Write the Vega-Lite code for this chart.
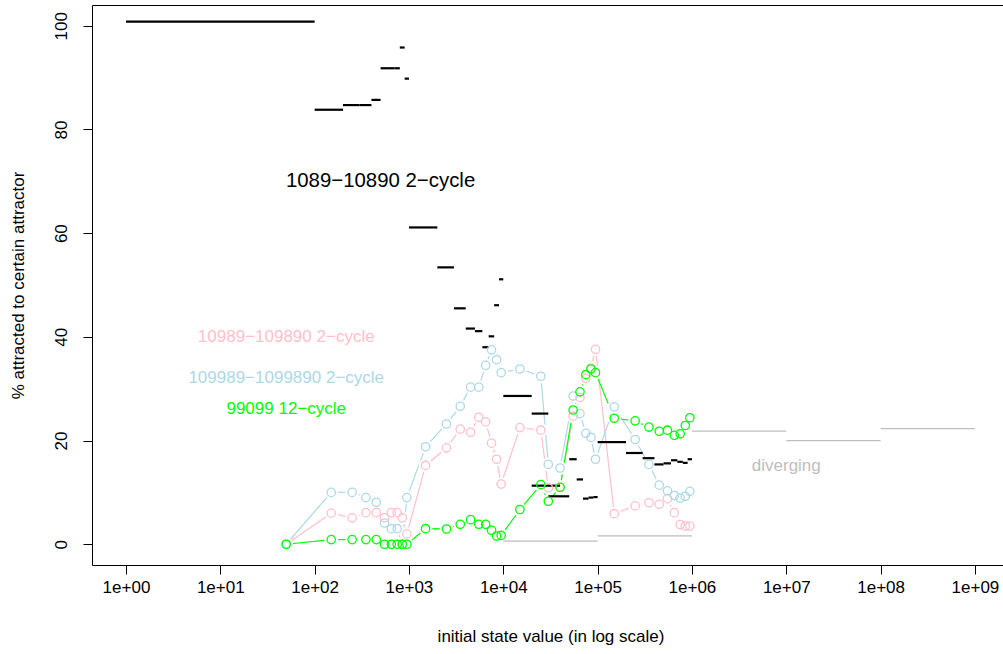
{
  "$schema": "https://vega.github.io/schema/vega-lite/v6.json",
  "width": 911,
  "height": 560,
  "autosize": {"type": "none"},
  "padding": {"left": 92, "top": 5, "right": 0, "bottom": 89},
  "background": "white",
  "config": {"view": {"stroke": null}, "font": "Liberation Sans"},
  "datasets": {
    "pts": [
      {"series": "10989", "x": 50, "y": 0}, {"series": "10989", "x": 150, "y": 6.0}, {"series": "10989", "x": 250, "y": 5.1}, {"series": "10989", "x": 350, "y": 6.1}, {"series": "10989", "x": 450, "y": 6.1}, {"series": "10989", "x": 550, "y": 5.1}, {"series": "10989", "x": 650, "y": 6.1}, {"series": "10989", "x": 750, "y": 6.1}, {"series": "10989", "x": 850, "y": 5.1}, {"series": "10989", "x": 950, "y": 2.0},
      {"series": "10989", "x": 1500, "y": 15.2}, {"series": "10989", "x": 2500, "y": 18.6}, {"series": "10989", "x": 3500, "y": 22.2}, {"series": "10989", "x": 4500, "y": 21.6}, {"series": "10989", "x": 5500, "y": 24.5}, {"series": "10989", "x": 6500, "y": 23.6}, {"series": "10989", "x": 7500, "y": 19.5}, {"series": "10989", "x": 8500, "y": 16.4}, {"series": "10989", "x": 9500, "y": 11.6},
      {"series": "10989", "x": 15000, "y": 22.5}, {"series": "10989", "x": 25000, "y": 22.0}, {"series": "10989", "x": 30000, "y": 10.9}, {"series": "10989", "x": 40000, "y": 11.0}, {"series": "10989", "x": 55000, "y": 24.7}, {"series": "10989", "x": 65000, "y": 28.3}, {"series": "10989", "x": 75000, "y": 32.0}, {"series": "10989", "x": 85000, "y": 34.0}, {"series": "10989", "x": 95000, "y": 37.6},
      {"series": "10989", "x": 150000, "y": 5.9}, {"series": "10989", "x": 250000, "y": 7.4}, {"series": "10989", "x": 350000, "y": 8.0}, {"series": "10989", "x": 450000, "y": 7.7}, {"series": "10989", "x": 550000, "y": 8.8}, {"series": "10989", "x": 650000, "y": 6.1}, {"series": "10989", "x": 750000, "y": 3.8}, {"series": "10989", "x": 850000, "y": 3.5}, {"series": "10989", "x": 950000, "y": 3.5},
      {"series": "109989", "x": 50, "y": 0}, {"series": "109989", "x": 150, "y": 10.0}, {"series": "109989", "x": 250, "y": 10.0}, {"series": "109989", "x": 350, "y": 9.0}, {"series": "109989", "x": 450, "y": 8.1}, {"series": "109989", "x": 550, "y": 4.1}, {"series": "109989", "x": 650, "y": 3.0}, {"series": "109989", "x": 750, "y": 3.0}, {"series": "109989", "x": 850, "y": 0}, {"series": "109989", "x": 950, "y": 9.0},
      {"series": "109989", "x": 1500, "y": 18.8}, {"series": "109989", "x": 2500, "y": 23.2}, {"series": "109989", "x": 3500, "y": 26.6}, {"series": "109989", "x": 4500, "y": 30.3}, {"series": "109989", "x": 5500, "y": 30.3}, {"series": "109989", "x": 6500, "y": 34.5}, {"series": "109989", "x": 7500, "y": 37.5}, {"series": "109989", "x": 8500, "y": 35.6}, {"series": "109989", "x": 9500, "y": 33.1},
      {"series": "109989", "x": 15000, "y": 33.8}, {"series": "109989", "x": 25000, "y": 32.4}, {"series": "109989", "x": 30000, "y": 15.4}, {"series": "109989", "x": 40000, "y": 14.7}, {"series": "109989", "x": 55000, "y": 28.6}, {"series": "109989", "x": 65000, "y": 25.2}, {"series": "109989", "x": 75000, "y": 21.4}, {"series": "109989", "x": 85000, "y": 20.6}, {"series": "109989", "x": 95000, "y": 16.4},
      {"series": "109989", "x": 150000, "y": 26.5}, {"series": "109989", "x": 250000, "y": 20.2}, {"series": "109989", "x": 350000, "y": 15.4}, {"series": "109989", "x": 450000, "y": 11.4}, {"series": "109989", "x": 550000, "y": 10.3}, {"series": "109989", "x": 650000, "y": 9.4}, {"series": "109989", "x": 750000, "y": 8.9}, {"series": "109989", "x": 850000, "y": 9.25}, {"series": "109989", "x": 950000, "y": 10.2},
      {"series": "99099", "x": 50, "y": 0}, {"series": "99099", "x": 150, "y": 0.9}, {"series": "99099", "x": 250, "y": 0.9}, {"series": "99099", "x": 350, "y": 0.9}, {"series": "99099", "x": 450, "y": 0.9}, {"series": "99099", "x": 550, "y": 0}, {"series": "99099", "x": 650, "y": 0}, {"series": "99099", "x": 750, "y": 0}, {"series": "99099", "x": 850, "y": 0}, {"series": "99099", "x": 950, "y": 0},
      {"series": "99099", "x": 1500, "y": 3.0}, {"series": "99099", "x": 2500, "y": 2.95}, {"series": "99099", "x": 3500, "y": 3.85}, {"series": "99099", "x": 4500, "y": 4.75}, {"series": "99099", "x": 5500, "y": 3.85}, {"series": "99099", "x": 6500, "y": 3.85}, {"series": "99099", "x": 7500, "y": 2.7}, {"series": "99099", "x": 8500, "y": 1.6}, {"series": "99099", "x": 9500, "y": 1.7},
      {"series": "99099", "x": 15000, "y": 6.7}, {"series": "99099", "x": 25000, "y": 11.5}, {"series": "99099", "x": 30000, "y": 8.3}, {"series": "99099", "x": 40000, "y": 11.0}, {"series": "99099", "x": 55000, "y": 25.9}, {"series": "99099", "x": 65000, "y": 29.4}, {"series": "99099", "x": 75000, "y": 32.7}, {"series": "99099", "x": 85000, "y": 33.8}, {"series": "99099", "x": 95000, "y": 33.1},
      {"series": "99099", "x": 150000, "y": 24.3}, {"series": "99099", "x": 250000, "y": 23.8}, {"series": "99099", "x": 350000, "y": 22.6}, {"series": "99099", "x": 450000, "y": 21.8}, {"series": "99099", "x": 550000, "y": 22.0}, {"series": "99099", "x": 650000, "y": 21.0}, {"series": "99099", "x": 750000, "y": 21.3}, {"series": "99099", "x": 850000, "y": 22.9}, {"series": "99099", "x": 950000, "y": 24.4}
    ],
    "segs": [
      {"series": "1089", "x0": 1, "x1": 100, "y": 100.8},
      {"series": "1089", "x0": 100, "x1": 200, "y": 83.8},
      {"series": "1089", "x0": 200, "x1": 300, "y": 84.7},
      {"series": "1089", "x0": 300, "x1": 400, "y": 84.7},
      {"series": "1089", "x0": 400, "x1": 500, "y": 85.7},
      {"series": "1089", "x0": 500, "x1": 600, "y": 91.8},
      {"series": "1089", "x0": 600, "x1": 700, "y": 91.8},
      {"series": "1089", "x0": 700, "x1": 800, "y": 91.8},
      {"series": "1089", "x0": 800, "x1": 900, "y": 95.8},
      {"series": "1089", "x0": 900, "x1": 1000, "y": 89.8},
      {"series": "1089", "x0": 1000, "x1": 2000, "y": 61.1},
      {"series": "1089", "x0": 2000, "x1": 3000, "y": 53.4},
      {"series": "1089", "x0": 3000, "x1": 4000, "y": 45.5},
      {"series": "1089", "x0": 4000, "x1": 5000, "y": 41.6},
      {"series": "1089", "x0": 5000, "x1": 6000, "y": 41.1},
      {"series": "1089", "x0": 6000, "x1": 7000, "y": 38.0},
      {"series": "1089", "x0": 7000, "x1": 8000, "y": 40.1},
      {"series": "1089", "x0": 8000, "x1": 9000, "y": 46.1},
      {"series": "1089", "x0": 9000, "x1": 10000, "y": 51.1},
      {"series": "1089", "x0": 10000, "x1": 20000, "y": 28.6},
      {"series": "1089", "x0": 20000, "x1": 30000, "y": 25.2},
      {"series": "1089", "x0": 20000, "x1": 40000, "y": 11.3},
      {"series": "1089", "x0": 30000, "x1": 50000, "y": 9.25},
      {"series": "1089", "x0": 50000, "x1": 60000, "y": 16.4},
      {"series": "1089", "x0": 60000, "x1": 70000, "y": 12.5},
      {"series": "1089", "x0": 70000, "x1": 80000, "y": 8.8},
      {"series": "1089", "x0": 80000, "x1": 90000, "y": 9.0},
      {"series": "1089", "x0": 90000, "x1": 100000, "y": 9.1},
      {"series": "1089", "x0": 100000, "x1": 200000, "y": 19.7},
      {"series": "1089", "x0": 200000, "x1": 300000, "y": 17.6},
      {"series": "1089", "x0": 300000, "x1": 400000, "y": 16.6},
      {"series": "1089", "x0": 400000, "x1": 500000, "y": 15.4},
      {"series": "1089", "x0": 500000, "x1": 600000, "y": 15.6},
      {"series": "1089", "x0": 600000, "x1": 700000, "y": 16.2},
      {"series": "1089", "x0": 700000, "x1": 800000, "y": 15.9},
      {"series": "1089", "x0": 800000, "x1": 900000, "y": 15.7},
      {"series": "1089", "x0": 900000, "x1": 1000000, "y": 16.4},
      {"series": "diverging", "x0": 10000, "x1": 100000, "y": 0.6},
      {"series": "diverging", "x0": 100000, "x1": 1000000, "y": 1.6},
      {"series": "diverging", "x0": 1000000, "x1": 10000000, "y": 21.8},
      {"series": "diverging", "x0": 10000000, "x1": 100000000, "y": 20.0},
      {"series": "diverging", "x0": 100000000, "x1": 1000000000, "y": 22.3}
    ],
    "labels": [
      {"series": "1089", "x": 500, "y": 70, "text": "1089−10890 2−cycle"},
      {"series": "10989", "x": 50, "y": 40, "text": "10989−109890 2−cycle"},
      {"series": "109989", "x": 50, "y": 32, "text": "109989−1099890 2−cycle"},
      {"series": "99099", "x": 50, "y": 26, "text": "99099 12−cycle"},
      {"series": "diverging", "x": 10000000, "y": 15, "text": "diverging"}
    ]
  },
  "resolve": {"axis": {"x": "independent", "y": "independent"}},
  "layer": [
    {
      "data": {"name": "pts"},
      "mark": {"type": "line", "strokeWidth": 1.2},
      "encoding": {
        "x": {"field": "x", "type": "quantitative", "scale": {"type": "log", "domain": [0.4365, 1983000000], "nice": false},
              "axis": {"orient": "top", "labels": false, "ticks": false, "grid": false, "title": null, "domain": true, "domainColor": "black", "domainWidth": 1}},
        "y": {"field": "y", "type": "quantitative", "scale": {"domain": [-4, 104], "nice": false, "zero": false}, "axis": null},
        "color": {"field": "series", "type": "nominal", "legend": null,
                  "scale": {"domain": ["10989", "109989", "99099", "1089", "diverging"], "range": ["#FFC0CB", "#ADD8E6", "#00FF00", "#000000", "#BEBEBE"]}}
      }
    },
    {
      "data": {"name": "pts"},
      "mark": {"type": "circle", "color": "white", "opacity": 1, "size": 190},
      "encoding": {
        "x": {"field": "x", "type": "quantitative", "axis": null},
        "y": {"field": "y", "type": "quantitative", "axis": null}
      }
    },
    {
      "data": {"name": "segs"},
      "transform": [{"filter": "datum.series === 'diverging'"}],
      "mark": {"type": "rule", "strokeWidth": 1.3},
      "encoding": {
        "x": {"field": "x0", "type": "quantitative", "axis": null},
        "x2": {"field": "x1"},
        "y": {"field": "y", "type": "quantitative", "axis": null},
        "color": {"field": "series", "type": "nominal", "legend": null}
      }
    },
    {
      "data": {"name": "segs"},
      "transform": [{"filter": "datum.series === '1089'"}],
      "mark": {"type": "rule", "strokeWidth": 2.2},
      "encoding": {
        "x": {"field": "x0", "type": "quantitative", "axis": null},
        "x2": {"field": "x1"},
        "y": {"field": "y", "type": "quantitative", "axis": null},
        "color": {"field": "series", "type": "nominal", "legend": null}
      }
    },
    {
      "data": {"name": "labels"},
      "transform": [{"filter": "datum.series !== '1089'"}],
      "mark": {"type": "text", "fontSize": 17, "align": "center", "baseline": "middle", "font": "Liberation Sans"},
      "encoding": {
        "x": {"field": "x", "type": "quantitative", "axis": null},
        "y": {"field": "y", "type": "quantitative", "axis": null},
        "text": {"field": "text"},
        "color": {"field": "series", "type": "nominal", "legend": null}
      }
    },
    {
      "data": {"name": "labels"},
      "transform": [{"filter": "datum.series === '1089'"}],
      "mark": {"type": "text", "fontSize": 20.4, "align": "center", "baseline": "middle", "font": "Liberation Sans"},
      "encoding": {
        "x": {"field": "x", "type": "quantitative", "axis": null},
        "y": {"field": "y", "type": "quantitative", "axis": null},
        "text": {"field": "text"},
        "color": {"field": "series", "type": "nominal", "legend": null}
      }
    },
    {
      "data": {"name": "pts"},
      "mark": {"type": "point", "shape": "circle", "filled": false, "size": 70, "strokeWidth": 1.3, "opacity": 1},
      "encoding": {
        "x": {"field": "x", "type": "quantitative",
              "axis": {"orient": "bottom", "values": [1, 10, 100, 1000, 10000, 100000, 1000000, 10000000, 100000000, 1000000000],
                       "labelExpr": "'1e+0' + format(log(datum.value) / LN10, '.0f')",
                       "grid": false, "domain": true, "domainColor": "black", "domainWidth": 1,
                       "ticks": true, "tickColor": "black", "tickSize": 9, "tickWidth": 1,
                       "labelFont": "Liberation Sans", "labelFontSize": 17, "labelColor": "black", "labelPadding": 5, "labelBaseline": "top", "labelFlush": false, "labelOverlap": false,
                       "title": "initial state value (in log scale)", "titleFont": "Liberation Sans", "titleFontSize": 17, "titleFontWeight": "normal", "titleColor": "black",
                       "titleX": 458.5, "titleY": 71, "titleAlign": "center", "titleBaseline": "middle"}},
        "y": {"field": "y", "type": "quantitative",
              "axis": {"orient": "left", "values": [0, 20, 40, 60, 80, 100], "grid": false, "domain": true, "domainColor": "black", "domainWidth": 1,
                       "ticks": true, "tickColor": "black", "tickSize": 9, "tickWidth": 1,
                       "labelFont": "Liberation Sans", "labelFontSize": 17, "labelColor": "black", "labelAngle": -90, "labelAlign": "center", "labelBaseline": "alphabetic", "labelPadding": 17, "labelFlush": false, "labelOverlap": false,
                       "title": "% attracted to certain attractor", "titleFont": "Liberation Sans", "titleFontSize": 17, "titleFontWeight": "normal", "titleColor": "black",
                       "titleX": -74, "titleY": 280, "titleAngle": -90, "titleAlign": "center", "titleBaseline": "middle"}},
        "color": {"field": "series", "type": "nominal", "legend": null}
      }
    }
  ]
}
